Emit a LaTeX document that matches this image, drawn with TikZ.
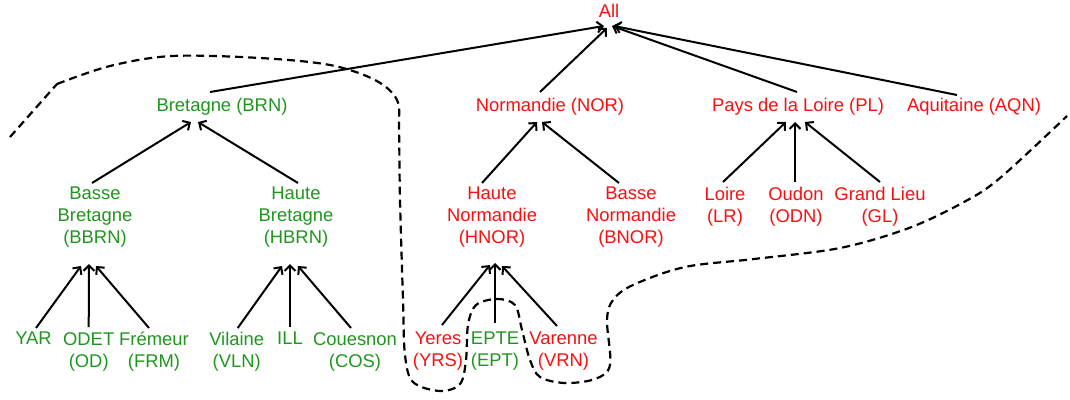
\documentclass[tikz,border=0pt]{standalone}
\usepackage{fontspec}
\setmainfont{Liberation Sans}
\usetikzlibrary{arrows.meta}
\definecolor{tred}{RGB}{250,15,15}
\definecolor{tgreen}{RGB}{30,150,30}
\begin{document}
\begin{tikzpicture}[x=1pt,y=-1pt,
  lab/.style={font=\fontsize{18.4}{22}\selectfont, align=center, inner sep=0pt, anchor=north},
  rd/.style={lab, text=tred},
  gr/.style={lab, text=tgreen},
  arr/.style={line width=2pt, -{Straight Barb[length=5.5pt,width=11pt,line width=2pt]}},
  region/.style={line width=2.2pt, dash pattern=on 8pt off 5pt}]
\useasboundingbox (0,0) rectangle (1070,399);
% nodes
\node[rd] (all) at (609,4) {All};
\node[gr] (brn) at (222,98) {Bretagne (BRN)};
\node[rd] (nor) at (550,98) {Normandie (NOR)};
\node[rd] (pl) at (798,98) {Pays de la Loire (PL)};
\node[rd] (aqn) at (974,98) {Aquitaine (AQN)};
\node[gr] (bbrn) at (95,187) {Basse\\Bretagne\\(BBRN)};
\node[gr] (hbrn) at (296,187) {Haute\\Bretagne\\(HBRN)};
\node[rd] (hnor) at (492,187) {Haute\\Normandie\\(HNOR)};
\node[rd] (bnor) at (631,187) {Basse\\Normandie\\(BNOR)};
\node[rd] (lr) at (725,187) {Loire\\(LR)};
\node[rd] (odn) at (796,187) {Oudon\\(ODN)};
\node[rd] (gl) at (880,187) {Grand Lieu\\(GL)};
\node[gr] (yar) at (33.5,332) {YAR};
\node[gr] (od) at (88.7,332) {ODET\\(OD)};
\node[gr] (frm) at (154,332) {Frémeur\\(FRM)};
\node[gr] (vln) at (236.7,332) {Vilaine\\(VLN)};
\node[gr] (ill) at (290,332) {ILL};
\node[gr] (cos) at (355,332) {Couesnon\\(COS)};
\node[rd] (yrs) at (438,332) {Yeres\\(YRS)};
\node[gr] (ept) at (495,332) {EPTE\\(EPT)};
\node[rd] (vrn) at (563.5,332) {Varenne\\(VRN)};
% level 1 -> All
\draw[arr] ([shift={(-12,-6)}]brn.north) -- ([shift={(-5,22)}]all.north);
\draw[arr] ([shift={(-10,-6)}]nor.north) -- ([shift={(-2,24)}]all.north);
\draw[arr] ([shift={(-1,-6)}]pl.north) -- ([shift={(3,22)}]all.north);
\draw[arr] ([shift={(-17,-3)}]aqn.north) -- ([shift={(5,22)}]all.north);
% level 2 -> level 1
\draw[arr] ([shift={(-3,-4)}]bbrn.north) -- ([shift={(-31,24)}]brn.north);
\draw[arr] ([shift={(2,-4)}]hbrn.north) -- ([shift={(-24,24)}]brn.north);
\draw[arr] ([shift={(-10,-4)}]hnor.north) -- ([shift={(-13,24)}]nor.north);
\draw[arr] ([shift={(-12,-4)}]bnor.north) -- ([shift={(-8,24)}]nor.north);
\draw[arr] ([shift={(-2,-5)}]lr.north) -- ([shift={(-12,24)}]pl.north);
\draw[arr] ([shift={(-1,-5)}]odn.north) -- ([shift={(-3,24)}]pl.north);
\draw[arr] ([shift={(0,-5)}]gl.north) -- ([shift={(7,24)}]pl.north);
% leaves -> level 2
\draw[arr] ([shift={(2.5,-4)}]yar.north) -- ([shift={(-14,79)}]bbrn.north);
\draw[arr] ([shift={(0,-5)}]od.north) -- ([shift={(-6,77)}]bbrn.north);
\draw[arr] ([shift={(-5,-4)}]frm.north) -- ([shift={(1,79)}]bbrn.north);
\draw[arr] ([shift={(1,-4)}]vln.north) -- ([shift={(-14,79)}]hbrn.north);
\draw[arr] ([shift={(0,-5)}]ill.north) -- ([shift={(-6,77)}]hbrn.north);
\draw[arr] ([shift={(-4,-4)}]cos.north) -- ([shift={(2,79)}]hbrn.north);
\draw[arr] ([shift={(4,-7)}]yrs.north) -- ([shift={(-2,78)}]hnor.north);
\draw[arr] ([shift={(0,-9)}]ept.north) -- ([shift={(3,76)}]hnor.north);
\draw[arr] ([shift={(-6.5,-6)}]vrn.north) -- ([shift={(10,79)}]hnor.north);
% dashed region boundary
\draw[region] (10,137) -- (57,84) plot[smooth, tension=0.55] coordinates {
  (57,84) (110,66) (172,56) (260,58) (330,65) (375,80) (397,100)
  (399,130) (400,200) (403,300) (405,355) (413,382) (440,391) (460,384)
  (466,360) (468,325) (476,305) (497,299) (515,305) (522,330) (530,360)
  (540,377) (565,383) (595,379) (610,365) (607,320) (613,300) (633,285)
  (685,267) (754,259) (840,248) (909,228) (964,202) (1000,178) (1067,116)};
\end{tikzpicture}
\end{document}
